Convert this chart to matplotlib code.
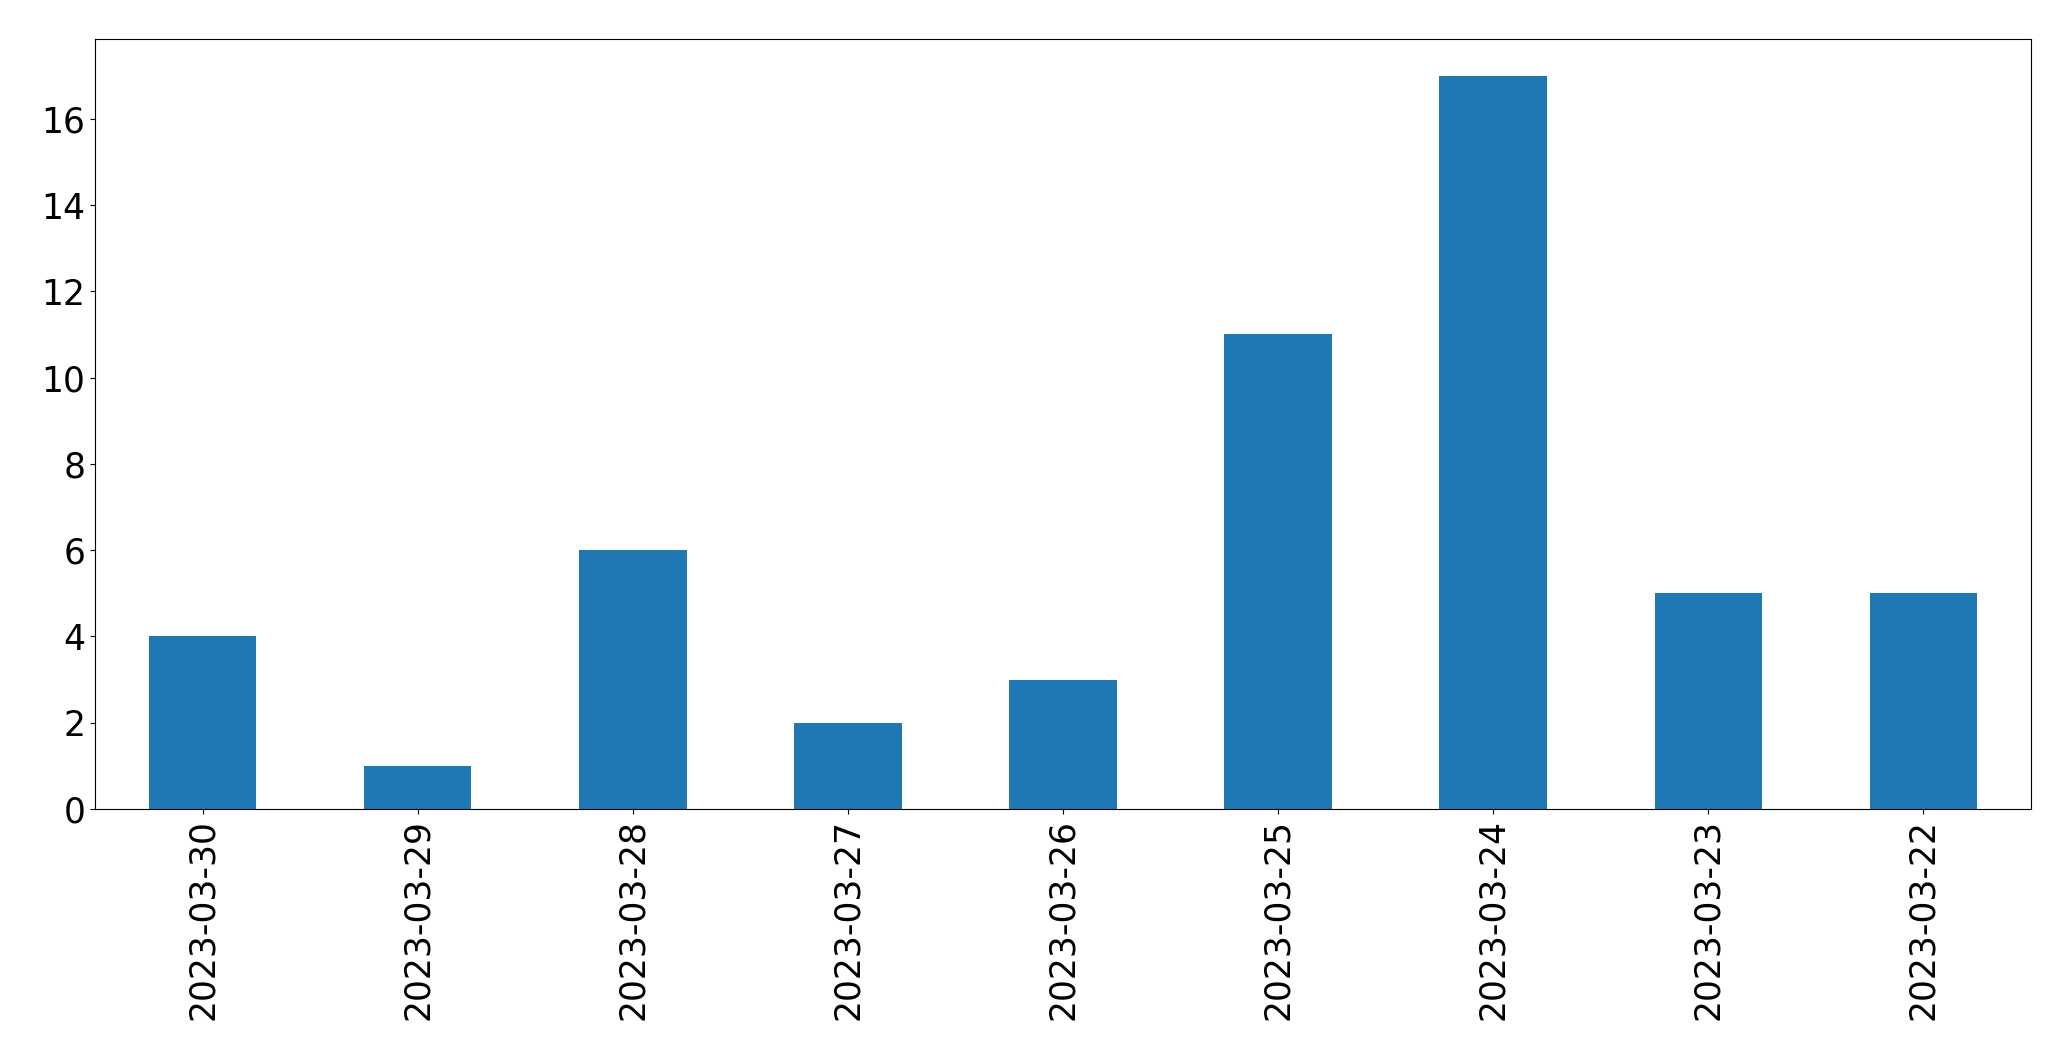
import matplotlib
matplotlib.use("Agg")
import matplotlib.pyplot as plt

dates = ["2023-03-30", "2023-03-29", "2023-03-28", "2023-03-27", "2023-03-26",
         "2023-03-25", "2023-03-24", "2023-03-23", "2023-03-22"]
counts = [4, 1, 6, 2, 3, 11, 17, 5, 5]

W, H = 2071, 1061
fig = plt.figure(figsize=(W / 100, H / 100), dpi=100)
ax = fig.add_axes([95 / W, 1 - 809 / H, (2031 - 95) / W, (809 - 39) / H])
x = list(range(len(dates)))
ax.bar(x, counts, width=0.5, color="#1f77b4")
ax.set_xlim(-0.5, len(dates) - 0.5)
ax.set_ylim(0, max(counts) * 1.05)
ax.set_xticks(x)
ax.set_xticklabels(dates, rotation=90)
ax.set_yticks(range(0, 17, 2))
ax.tick_params(labelsize=24.9)
fig.savefig("out.png", dpi=100)
